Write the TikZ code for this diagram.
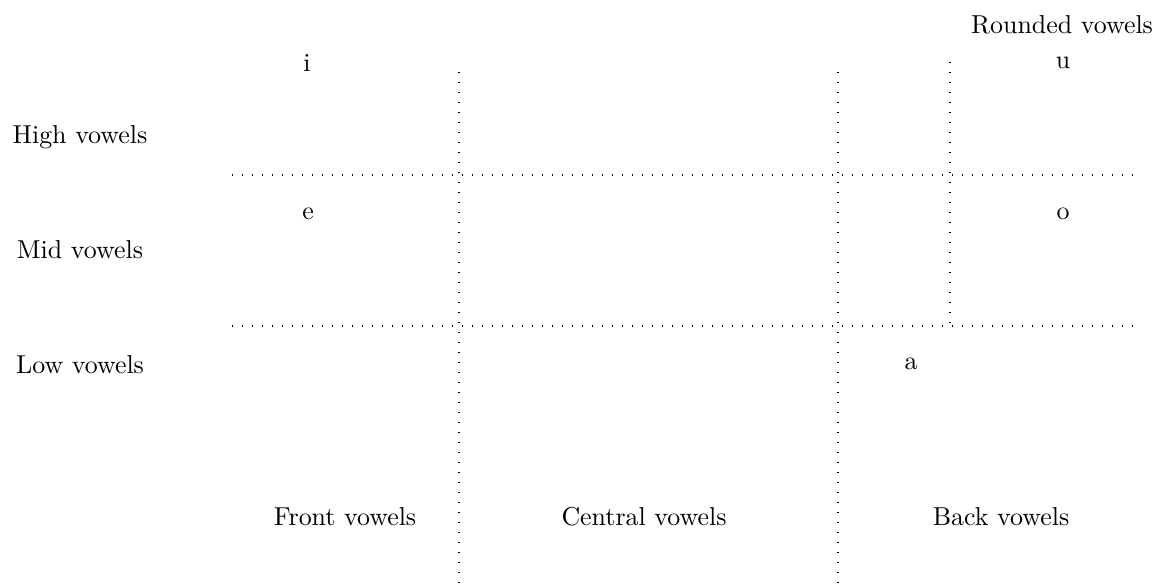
\documentclass[tikz,border=0pt]{standalone}
\begin{document}
\begin{tikzpicture}[x=0.3861pt,y=-0.3861pt,
  grid/.style={line width=0.5pt,dash pattern=on 0.5pt off 3.36pt},
  lbl/.style={anchor=base,inner sep=0pt}]
\useasboundingbox (0,0) rectangle (1158,587);
% grid lines
\draw[grid] (459,72) -- (459,582);
\draw[grid] (838,72) -- (838,582);
\draw[grid] (950,62) -- (950,326);
\draw[grid] (232,175) -- (1134,175);
\draw[grid] (232,326) -- (1134,326);
% labels
\node[lbl] (rounded) at (1062,34) {Rounded vowels};
\node[lbl] (i) at (307,71) {i};
\node[lbl] (u) at (1063,68) {u};
\node[lbl] (high) at (80,144) {High vowels};
\node[lbl] (e) at (308,220) {e};
\node[lbl] (o) at (1063,220) {o};
\node[lbl] (mid) at (80,258) {Mid vowels};
\node[lbl] (low) at (80,373) {Low vowels};
\node[lbl] (a) at (911,369) {a};
\node[lbl] (front) at (345,525) {Front vowels};
\node[lbl] (central) at (644,525) {Central vowels};
\node[lbl] (back) at (1001,525) {Back vowels};
\end{tikzpicture}
\end{document}
